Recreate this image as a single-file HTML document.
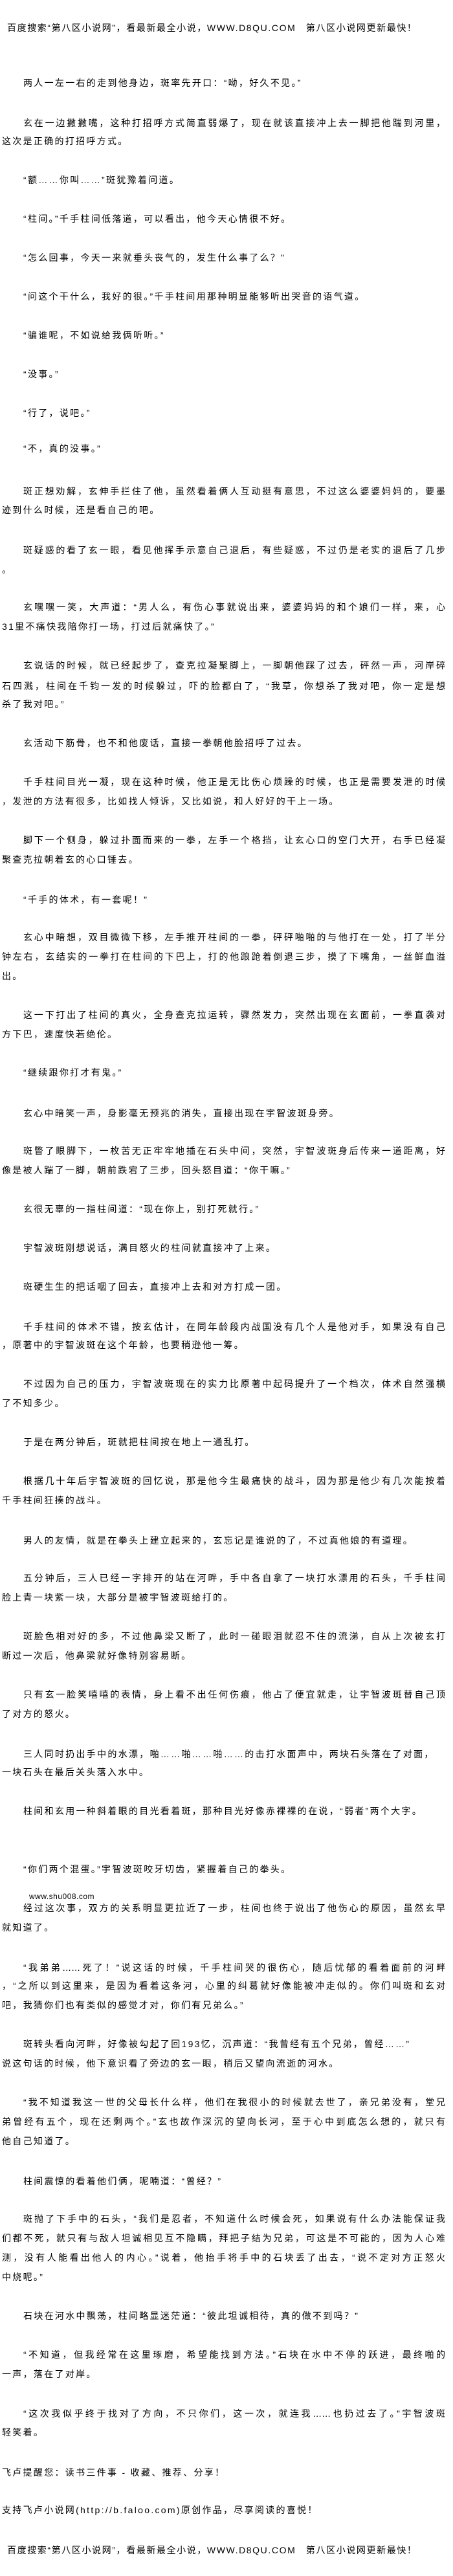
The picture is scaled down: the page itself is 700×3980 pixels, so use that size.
<!DOCTYPE html>
<html><head><meta charset="utf-8">
<style>
html,body{margin:0;padding:0;background:#fff;}
body{width:700px;height:3980px;position:relative;overflow:hidden;
font-family:"Liberation Sans","Noto Sans CJK SC",sans-serif;font-size:14px;color:#000;}
div{position:absolute;white-space:nowrap;line-height:18px;height:18px;letter-spacing:2.3px;}
.a{left:36px;}
.b{left:3px;}
.h{left:11px;letter-spacing:1.6px;}
.f{width:652px;text-align:justify;text-align-last:justify;letter-spacing:0;}
.g{width:685px;text-align:justify;text-align-last:justify;letter-spacing:0;}
.s{left:45px;font-size:12px;letter-spacing:0.5px;}
</style></head><body>
<div class="h" style="top:34px">百度搜索“第八区小说网”，看最新最全小说，WWW.D8QU.COM　第八区小说网更新最快！</div>
<div class="a" style="top:119px">两人一左一右的走到他身边，斑率先开口：“呦，好久不见。”</div>
<div class="a f" style="top:181px">玄在一边撇撇嘴，这种打招呼方式简直弱爆了，现在就该直接冲上去一脚把他踹到河里，</div>
<div class="b" style="top:209px">这次是正确的打招呼方式。</div>
<div class="a" style="top:269px">“额……你叫……”斑犹豫着问道。</div>
<div class="a" style="top:329px">“柱间。”千手柱间低落道，可以看出，他今天心情很不好。</div>
<div class="a" style="top:389px">“怎么回事，今天一来就垂头丧气的，发生什么事了么？”</div>
<div class="a" style="top:449px">“问这个干什么，我好的很。”千手柱间用那种明显能够听出哭音的语气道。</div>
<div class="a" style="top:509px">“骗谁呢，不如说给我俩听听。”</div>
<div class="a" style="top:569px">“没事。”</div>
<div class="a" style="top:629px">“行了，说吧。”</div>
<div class="a" style="top:684px">“不，真的没事。”</div>
<div class="a f" style="top:750px">斑正想劝解，玄伸手拦住了他，虽然看着俩人互动挺有意思，不过这么婆婆妈妈的，要墨</div>
<div class="b" style="top:779px">迹到什么时候，还是看自己的吧。</div>
<div class="a f" style="top:841px">斑疑惑的看了玄一眼，看见他挥手示意自己退后，有些疑惑，不过仍是老实的退后了几步</div>
<div class="b" style="top:871px">。</div>
<div class="a f" style="top:929px">玄嘿嘿一笑，大声道：“男人么，有伤心事就说出来，婆婆妈妈的和个娘们一样，来，心</div>
<div class="b" style="top:959px">31里不痛快我陪你打一场，打过后就痛快了。”</div>
<div class="a f" style="top:1019px">玄说话的时候，就已经起步了，查克拉凝聚脚上，一脚朝他踩了过去，砰然一声，河岸碎</div>
<div class="b g" style="top:1051px">石四溅，柱间在千钧一发的时候躲过，吓的脸都白了，“我草，你想杀了我对吧，你一定是想</div>
<div class="b" style="top:1079px">杀了我对吧。”</div>
<div class="a" style="top:1139px">玄活动下筋骨，也不和他废话，直接一拳朝他脸招呼了过去。</div>
<div class="a f" style="top:1199px">千手柱间目光一凝，现在这种时候，他正是无比伤心烦躁的时候，也正是需要发泄的时候</div>
<div class="b" style="top:1229px">，发泄的方法有很多，比如找人倾诉，又比如说，和人好好的干上一场。</div>
<div class="a f" style="top:1289px">脚下一个侧身，躲过扑面而来的一拳，左手一个格挡，让玄心口的空门大开，右手已经凝</div>
<div class="b" style="top:1319px">聚查克拉朝着玄的心口锤去。</div>
<div class="a" style="top:1381px">“千手的体术，有一套呢！”</div>
<div class="a f" style="top:1439px">玄心中暗想，双目微微下移，左手推开柱间的一拳，砰砰啪啪的与他打在一处，打了半分</div>
<div class="b g" style="top:1469px">钟左右，玄结实的一拳打在柱间的下巴上，打的他踉跄着倒退三步，摸了下嘴角，一丝鲜血溢</div>
<div class="b" style="top:1499px">出。</div>
<div class="a f" style="top:1559px">这一下打出了柱间的真火，全身查克拉运转，骤然发力，突然出现在玄面前，一拳直袭对</div>
<div class="b" style="top:1589px">方下巴，速度快若绝伦。</div>
<div class="a" style="top:1648px">“继续跟你打才有鬼。”</div>
<div class="a" style="top:1711px">玄心中暗笑一声，身影毫无预兆的消失，直接出现在宇智波斑身旁。</div>
<div class="a f" style="top:1769px">斑瞥了眼脚下，一枚苦无正牢牢地插在石头中间，突然，宇智波斑身后传来一道距离，好</div>
<div class="b" style="top:1799px">像是被人踹了一脚，朝前跌宕了三步，回头怒目道：“你干嘛。”</div>
<div class="a" style="top:1859px">玄很无辜的一指柱间道：“现在你上，别打死就行。”</div>
<div class="a" style="top:1919px">宇智波斑刚想说话，满目怒火的柱间就直接冲了上来。</div>
<div class="a" style="top:1979px">斑硬生生的把话咽了回去，直接冲上去和对方打成一团。</div>
<div class="a f" style="top:2041px">千手柱间的体术不错，按玄估计，在同年龄段内战国没有几个人是他对手，如果没有自己</div>
<div class="b" style="top:2069px">，原著中的宇智波斑在这个年龄，也要稍逊他一筹。</div>
<div class="a f" style="top:2129px">不过因为自己的压力，宇智波斑现在的实力比原著中起码提升了一个档次，体术自然强横</div>
<div class="b" style="top:2159px">了不知多少。</div>
<div class="a" style="top:2219px">于是在两分钟后，斑就把柱间按在地上一通乱打。</div>
<div class="a f" style="top:2279px">根据几十年后宇智波斑的回忆说，那是他今生最痛快的战斗，因为那是他少有几次能按着</div>
<div class="b" style="top:2309px">千手柱间狂揍的战斗。</div>
<div class="a" style="top:2371px">男人的友情，就是在拳头上建立起来的，玄忘记是谁说的了，不过真他娘的有道理。</div>
<div class="a f" style="top:2429px">五分钟后，三人已经一字排开的站在河畔，手中各自拿了一块打水漂用的石头，千手柱间</div>
<div class="b" style="top:2459px">脸上青一块紫一块，大部分是被宇智波斑给打的。</div>
<div class="a f" style="top:2519px">斑脸色相对好的多，不过他鼻梁又断了，此时一碰眼泪就忍不住的流涕，自从上次被玄打</div>
<div class="b" style="top:2549px">断过一次后，他鼻梁就好像特别容易断。</div>
<div class="a f" style="top:2609px">只有玄一脸笑嘻嘻的表情，身上看不出任何伤痕，他占了便宜就走，让宇智波斑替自己顶</div>
<div class="b" style="top:2639px">了对方的怒火。</div>
<div class="a" style="top:2701px">三人同时扔出手中的水漂，啪……啪……啪……的击打水面声中，两块石头落在了对面，</div>
<div class="b" style="top:2729px">一块石头在最后关头落入水中。</div>
<div class="a" style="top:2789px">柱间和玄用一种斜着眼的目光看着斑，那种目光好像赤裸裸的在说，“弱者”两个大字。</div>
<div class="a" style="top:2879px">“你们两个混蛋。”宇智波斑咬牙切齿，紧握着自己的拳头。</div>
<div class="s" style="top:2921px">www.shu008.com</div>
<div class="a f" style="top:2939px">经过这次事，双方的关系明显更拉近了一步，柱间也终于说出了他伤心的原因，虽然玄早</div>
<div class="b" style="top:2969px">就知道了。</div>
<div class="a f" style="top:3031px">“我弟弟……死了！”说这话的时候，千手柱间哭的很伤心，随后忧郁的看着面前的河畔</div>
<div class="b g" style="top:3059px">，“之所以到这里来，是因为看着这条河，心里的纠葛就好像能被冲走似的。你们叫斑和玄对</div>
<div class="b" style="top:3089px">吧，我猜你们也有类似的感觉才对，你们有兄弟么。”</div>
<div class="a" style="top:3149px">斑转头看向河畔，好像被勾起了回193忆，沉声道：“我曾经有五个兄弟，曾经……”</div>
<div class="b" style="top:3179px">说这句话的时候，他下意识看了旁边的玄一眼，稍后又望向流逝的河水。</div>
<div class="a f" style="top:3239px">“我不知道我这一世的父母长什么样，他们在我很小的时候就去世了，亲兄弟没有，堂兄</div>
<div class="b g" style="top:3269px">弟曾经有五个，现在还剩两个。”玄也故作深沉的望向长河，至于心中到底怎么想的，就只有</div>
<div class="b" style="top:3299px">他自己知道了。</div>
<div class="a" style="top:3361px">柱间震惊的看着他们俩，呢喃道：“曾经？”</div>
<div class="a f" style="top:3419px">斑抛了下手中的石头，“我们是忍者，不知道什么时候会死，如果说有什么办法能保证我</div>
<div class="b g" style="top:3449px">们都不死，就只有与敌人坦诚相见互不隐瞒，拜把子结为兄弟，可这是不可能的，因为人心难</div>
<div class="b g" style="top:3479px">测，没有人能看出他人的内心。”说着，他抬手将手中的石块丢了出去，“说不定对方正怒火</div>
<div class="b" style="top:3509px">中烧呢。”</div>
<div class="a" style="top:3569px">石块在河水中飘荡，柱间略显迷茫道：“彼此坦诚相待，真的做不到吗？”</div>
<div class="a f" style="top:3629px">“不知道，但我经常在这里琢磨，希望能找到方法。”石块在水中不停的跃进，最终啪的</div>
<div class="b" style="top:3659px">一声，落在了对岸。</div>
<div class="a f" style="top:3720px">“这次我似乎终于找对了方向，不只你们，这一次，就连我……也扔过去了。”宇智波斑</div>
<div class="b" style="top:3749px">轻笑着。</div>
<div class="b" style="top:3811px">飞卢提醒您：读书三件事 - 收藏、推荐、分享！</div>
<div class="b" style="top:3869px">支持飞卢小说网(http://b.faloo.com)原创作品，尽享阅读的喜悦！</div>
<div class="h" style="top:3931px">百度搜索“第八区小说网”，看最新最全小说，WWW.D8QU.COM　第八区小说网更新最快！</div>
</body></html>
